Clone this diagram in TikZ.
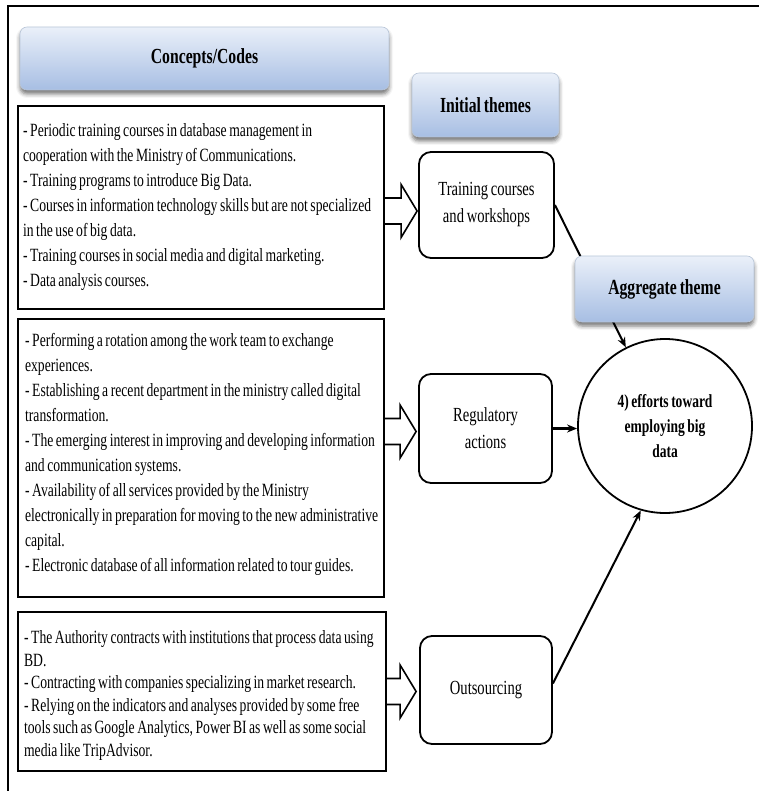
\documentclass[tikz,border=0pt]{standalone}
\usepackage{fontspec}
\setmainfont{Liberation Serif}[FakeStretch=0.73, WordSpace=0.74]
\usetikzlibrary{calc,arrows.meta,shadows.blur}
\definecolor{hdrtop}{HTML}{EAF0F9}
\definecolor{hdrbot}{HTML}{A7BEE3}
\definecolor{hdredge}{HTML}{B9C6D8}
\tikzset{
  header/.style={draw=hdredge, line width=0.6pt, rounded corners=7pt,
    top color=hdrtop, bottom color=hdrbot,
    blur shadow={shadow xshift=0pt, shadow yshift=-4pt, shadow blur radius=4pt, shadow opacity=55},
    font=\fontsize{21.5}{25}\selectfont\bfseries, inner sep=0pt},
  codebox/.style={draw, line width=2.2pt, fill=white, inner sep=0pt},
  codetext/.style={anchor=west, align=left, inner sep=0pt, font=\fontsize{18.7}{25}\selectfont},
  theme/.style={draw, line width=1.8pt, rounded corners=12pt, fill=white, align=center,
    font=\fontsize{20}{27}\selectfont, inner sep=0pt},
  aggregate/.style={draw, circle, line width=1.8pt, minimum size=174pt, align=center, inner sep=0pt,
    font=\fontsize{18.5}{25}\selectfont\bfseries},
  blockarrow/.style={draw, line width=1.6pt, line join=miter},
  link/.style={line width=2pt, -{Stealth[length=10pt,width=8pt]}},
}
% hollow block arrow from the right side of a code box to a tip coordinate
\newcommand{\hollowarrow}[2]{%
  \draw[blockarrow] ($(#1.east |- #2)+(0,13pt)$) -- ($(#2)+(-16pt,13pt)$)
    -- ($(#2)+(-16pt,26.5pt)$) -- (#2) -- ($(#2)+(-16pt,-26.5pt)$)
    -- ($(#2)+(-16pt,-13pt)$) -- ($(#1.east |- #2)+(0,-13pt)$);}
\begin{document}
\begin{tikzpicture}[x=1pt,y=-1pt]
\useasboundingbox (0,0) rectangle (759,791);
% frame
\draw[line width=1.8pt] (8,791) -- (8,6) -- (759,6);

% code boxes and their texts
\node[codebox, minimum width=366pt, minimum height=203pt] (b1) at (201,207.5) {};
\node[codetext] (b1t) at ($(b1.west)+(6pt,0)$)
{- Periodic training courses in database management in\\
cooperation with the Ministry of Communications.\\
- Training programs to introduce Big Data.\\
- Courses in information technology skills but are not specialized\\
in the use of big data.\\
- Training courses in social media and digital marketing.\\
- Data analysis courses.};

\node[codebox, minimum width=366pt, minimum height=278pt] (b2) at (201,458) {};
\node[codetext] (b2t) at ($(b2.west)+(8pt,4pt)$)
{- Performing a rotation among the work team to exchange\\
experiences.\\
- Establishing a recent department in the ministry called digital\\
transformation.\\
- The emerging interest in improving and developing information\\
and communication systems.\\
- Availability of all services provided by the Ministry\\
electronically in preparation for moving to the new administrative\\
capital.\\
- Electronic database of all information related to tour guides.};

\node[codebox, minimum width=368pt, minimum height=159pt] (b3) at (202,691.5) {};
\node[codetext, font=\fontsize{18.7}{22.5}\selectfont] (b3t) at ($(b3.west)+(7pt,-4pt)$)
{- The Authority contracts with institutions that process data using\\
BD.\\
- Contracting with companies specializing in market research.\\
- Relying on the indicators and analyses provided by some free\\
tools such as Google Analytics, Power BI as well as some social\\
media like TripAdvisor.};

% initial themes
\node[theme, minimum width=135pt, minimum height=106pt] (tr) at (486.5,205) {Training courses\\and workshops};
\node[theme, minimum width=133pt, minimum height=109pt] (reg) at (485.5,428.5) {Regulatory\\actions};
\node[theme, minimum width=132pt, minimum height=108pt] (out) at (486,690) {Outsourcing};

% aggregate theme
\node[aggregate] (circ) at (665,426) {4) efforts toward\\employing big\\data};

% hollow arrows
\coordinate (t1) at ($(tr.west)+(-1pt,-6pt)$);
\coordinate (t2) at ($(reg.west)+(-2pt,-3pt)$);
\coordinate (t3) at ($(out.west)+(-3pt,-1.5pt)$);
\hollowarrow{b1}{t1}
\hollowarrow{b2}{t2}
\hollowarrow{b3}{t3}

% links to the aggregate theme
\draw[link] (tr.east) -- (circ);
\draw[link, line width=2.6pt] (reg.east) -- (reg.east -| circ.west);
\draw[link] ($(out.east)+(0,6.5pt)$) -- (circ.254);

% headers
\node[header, minimum width=369pt, minimum height=63pt] (hc) at (204.5,58.5) {Concepts/Codes};
\node[header, minimum width=147pt, minimum height=64pt] (hi) at (485.5,105) {Initial themes};
\node[header, minimum width=179pt, minimum height=66pt] (ha) at (664.5,289) {Aggregate theme};
\end{tikzpicture}
\end{document}
